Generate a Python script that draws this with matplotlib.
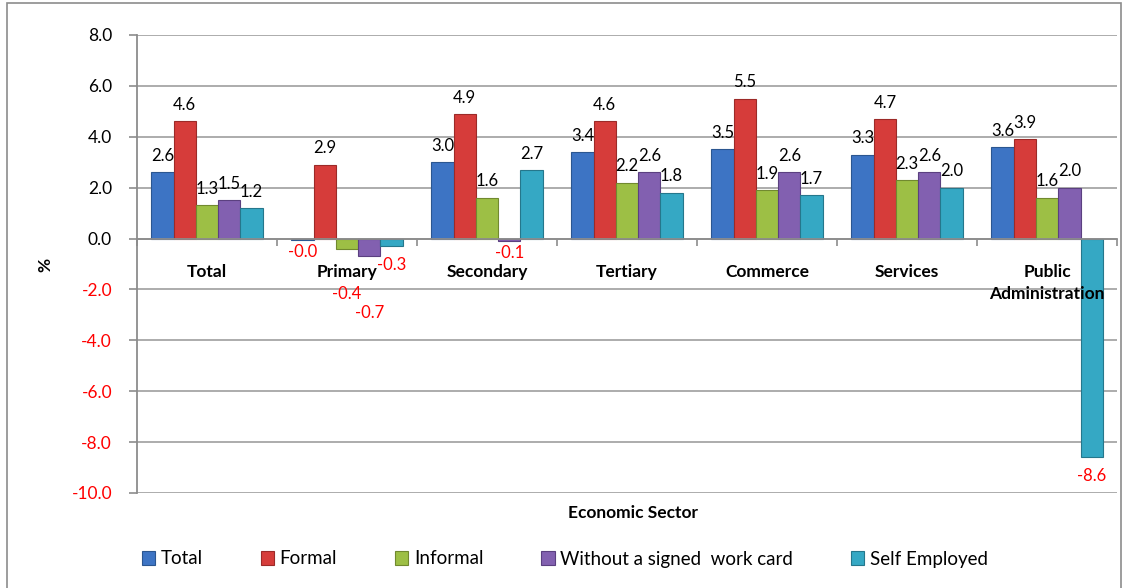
import matplotlib
matplotlib.use("Agg")
import matplotlib.pyplot as plt
import numpy as np
from matplotlib.patches import Rectangle
from matplotlib.ticker import FixedLocator

plt.rcParams['font.family'] = ['Lato', 'DejaVu Sans']

categories = ["Total", "Primary", "Secondary", "Tertiary", "Commerce", "Services",
              "Public\nAdministration"]
series_names = ["Total", "Formal", "Informal", "Without a signed  work card", "Self Employed"]
total_vals = [2.6, -0.04, 3.0, 3.4, 3.5, 3.3, 3.6]
formal_vals = [4.6, 2.9, 4.9, 4.6, 5.5, 4.7, 3.9]
informal_vals = [1.3, -0.4, 1.6, 2.2, 1.9, 2.3, 1.6]
nowork_vals = [1.5, -0.7, -0.1, 2.6, 2.6, 2.6, 2.0]
self_vals = [1.2, -0.3, 2.7, 1.8, 1.7, 2.0, -8.6]
yticks = [8.0, 6.0, 4.0, 2.0, 0.0, -2.0, -4.0, -6.0, -8.0, -10.0]

series = [total_vals, formal_vals, informal_vals, nowork_vals, self_vals]
colors = ["#3d74c4", "#d63c3a", "#9dbf45", "#8260b0", "#35a8c4"]
edges = ["#2b5690", "#9c2a28", "#71892f", "#5b4080", "#25778c"]

# extra downward nudges (points) for crowded negative labels, (series, category)
nudge = {(2, 1): 24, (3, 1): 32, (4, 1): 5, (4, 6): 5}

fig = plt.figure(figsize=(11.25, 5.88), dpi=100)
ax = fig.add_axes([0.1218, 0.1616, 0.8712, 0.7789])

x = np.arange(len(categories))
w = 0.159
for i, (vals, c, ec, name) in enumerate(zip(series, colors, edges, series_names)):
    pos = x + (i - 2) * w
    bars = ax.bar(pos, vals, width=w, color=c, edgecolor=ec, linewidth=0.8,
                  label=name, zorder=3)
    for j, (b, v) in enumerate(zip(bars, vals)):
        xc = b.get_x() + b.get_width() / 2
        if v >= 0:
            ax.annotate(f"{v:.1f}", (xc, v), xytext=(0, 6), textcoords="offset points",
                        ha="center", va="bottom", fontsize=12, color="black", zorder=5)
        else:
            dy = -3 - nudge.get((i, j), 0)
            ax.annotate(f"{v:.1f}", (xc, v), xytext=(0, dy), textcoords="offset points",
                        ha="center", va="top", fontsize=12, color="red", zorder=5)

ax.set_ylim(-10, 8)
ax.set_xlim(-0.5, len(categories) - 0.5)
ax.set_yticks(yticks)
ax.set_yticklabels([f"{t:.1f}" for t in yticks], fontsize=12.5)
for lbl, t in zip(ax.get_yticklabels(), yticks):
    lbl.set_color("red" if t < 0 else "black")
ax.yaxis.grid(True, color="#a6a6a6", linewidth=1.3, zorder=0)
ax.tick_params(axis="y", length=6, color="#8c8c8c", width=1.2, pad=12)

ax.spines["bottom"].set_position(("data", 0))
ax.spines["bottom"].set_color("#8c8c8c")
ax.spines["bottom"].set_linewidth(1.3)
ax.spines["bottom"].set_zorder(4)
ax.spines["left"].set_color("#8c8c8c")
ax.spines["left"].set_linewidth(1.3)
ax.spines["top"].set_visible(False)
ax.spines["right"].set_visible(False)

ax.set_xticks(x)
ax.set_xticklabels([])
ax.tick_params(axis="x", which="major", length=0)
ax.xaxis.set_minor_locator(FixedLocator(np.arange(len(categories) + 1) - 0.5))
ax.tick_params(axis="x", which="minor", length=5, color="#8c8c8c", width=1.2)
for xc, cat in zip(x, categories):
    ax.annotate(cat, (xc, 0), xytext=(0, -18.5), textcoords="offset points",
                ha="center", va="top", fontsize=12.5, fontweight="bold",
                linespacing=1.45, zorder=6)

fig.text(0.563, 1 - 513 / 588, "Economic Sector", ha="center", va="center",
         fontsize=12.5, fontweight="bold")
fig.text(0.040, 1 - 265 / 588, "%", ha="center", va="center", rotation=90,
         fontsize=12.5, fontweight="bold")

fig.legend(loc="center", bbox_to_anchor=(0.502, 1 - 559 / 588), ncol=5, frameon=False,
           fontsize=13.5, handlelength=0.7, handleheight=0.7, handletextpad=0.3,
           columnspacing=3.1)

fig.patches.append(Rectangle((0.006, -0.01), 0.99, 1.005, transform=fig.transFigure,
                             fill=False, edgecolor="#8c8c8c", linewidth=1.2))

fig.savefig("out.png", dpi=100)
